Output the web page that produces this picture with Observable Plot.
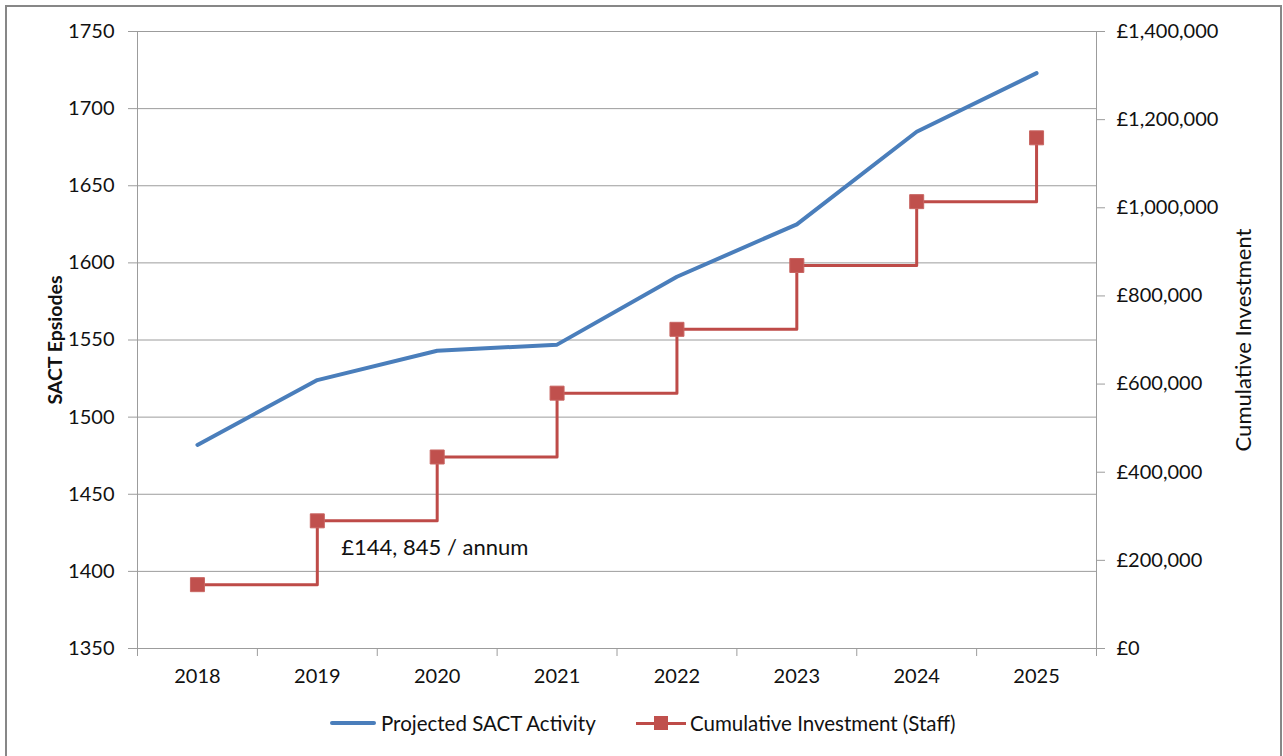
<!DOCTYPE html>
<html>
<head>
<meta charset="utf-8">
<script src="https://cdn.jsdelivr.net/npm/d3@7"></script>
<script src="https://cdn.jsdelivr.net/npm/@observablehq/plot@0.6"></script>
<style>
  body { margin: 0; background: #fff; font-family: Lato, "Open Sans", sans-serif; }
  #chart { position: relative; width: 1283px; height: 756px; overflow: hidden; }
  #frame { position: absolute; left: 5px; top: 5px; width: 1277px; height: 800px;
           border: 2px solid #878787; box-sizing: border-box; }
  #plot { position: absolute; left: 0; top: 0; }
  #legend { position: absolute; left: 0; top: 0; width: 100%; height: 100%; pointer-events: none; }
  .lg-text { position: absolute; top: 710px; font-size: 20.5px; line-height: 26px; color: #111; white-space: nowrap; }
</style>
</head>
<body>
<div id="chart">
  <div id="frame"></div>
  <div id="plot"></div>
  <div id="legend"></div>
</div>
<script>
// Projection years (categories on the x axis)
const years = [2018, 2019, 2020, 2021, 2022, 2023, 2024, 2025];
// Projected SACT episodes per year (left axis)
const activity = [1482, 1524, 1543, 1547, 1591, 1625, 1685, 1723];
// Cumulative staff investment in £ (right axis)
const investment = [144845, 289690, 434535, 579380, 724225, 869070, 1013915, 1158760];
// Axis ticks
const activityTicks = [1350, 1400, 1450, 1500, 1550, 1600, 1650, 1700, 1750];
const investmentTicks = [0, 200000, 400000, 600000, 800000, 1000000, 1200000, 1400000];
// Text
const seriesNames = ["Projected SACT Activity", "Cumulative Investment (Staff)"];
const axisTitles = ["SACT Epsiodes", "Cumulative Investment"];
const annualRate = investment[0];

const blue = "#4a7ebb";
const red = "#be4b48";
const grid = "#9c9c9c";

// The £ axis shares the frame with the episodes axis: map £ onto episode units
const yMin = activityTicks[0], yMax = activityTicks[activityTicks.length - 1];
const invMax = investmentTicks[investmentTicks.length - 1];
const toLeft = v => yMin + (v / invMax) * (yMax - yMin);
const fromLeft = y => Math.round(((y - yMin) / (yMax - yMin)) * invMax);
const pound = d3.format(",");

const rows = years.map((year, i) => ({
  year,
  activity: activity[i],
  invest: toLeft(investment[i])
}));
// category boundaries, where the x tick marks sit
const bounds = d3.range(years.length + 1).map(i => years[0] - 0.5 + i);

const note = [{year: years[1], y: toLeft(investment[1]), rate: annualRate}];

const chart = Plot.plot({
  width: 1283,
  height: 700,
  marginLeft: 137,
  marginRight: 187,
  marginTop: 31,
  marginBottom: 52,
  style: {fontFamily: "Lato, 'Open Sans', sans-serif", fontSize: "20px", color: "#111", background: "transparent", overflow: "visible"},
  x: {type: "linear", domain: [bounds[0], bounds[bounds.length - 1]]},
  y: {domain: [yMin, yMax]},
  marks: [
    Plot.gridY(activityTicks, {stroke: grid, strokeOpacity: 1}),
    Plot.ruleX([bounds[0], bounds[bounds.length - 1]], {stroke: grid}),
    Plot.axisY(activityTicks, {anchor: "left", tickSize: 9, tickPadding: 14, stroke: grid, label: null, tickFormat: d => String(d)}),
    Plot.axisY(investmentTicks.map(toLeft), {anchor: "right", tickSize: 8, tickPadding: 12, stroke: grid, label: null,
      tickFormat: d => "£" + pound(fromLeft(d))}),
    Plot.axisX(bounds, {anchor: "bottom", tickSize: 8, stroke: grid, label: null, tickFormat: () => ""}),
    Plot.axisX(years, {anchor: "bottom", tickSize: 0, tickPadding: 20, label: null, tickFormat: d => String(d)}),
    Plot.line(rows, {x: "year", y: "activity", stroke: blue, strokeWidth: 4, strokeLinejoin: "round"}),
    Plot.line(rows, {x: "year", y: "invest", stroke: red, strokeWidth: 3, curve: "step-after"}),
    Plot.dot(rows, {x: "year", y: "invest", symbol: "square", r: 7.9, fill: "#c0504d", stroke: "#c86562", strokeWidth: 1}),
    Plot.text(note, {x: "year", y: "y", dx: 24, dy: 27, textAnchor: "start", fontSize: 22,
      text: d => "£" + pound(d.rate).replace(",", ", ") + " / annum"}),
    Plot.text([axisTitles[0]], {frameAnchor: "left", textAnchor: "middle", text: d => d, rotate: -90, dx: -82, fontWeight: "bold", fontSize: 19.5}),
    Plot.text([axisTitles[1]], {frameAnchor: "right", textAnchor: "middle", text: d => d, rotate: -90, dx: 147, fontSize: 22})
  ]
});
document.getElementById("plot").appendChild(chart);

// Legend below the plot
const legend = d3.select("#legend");
legend.append("div").style("position", "absolute").style("left", "330px").style("top", "721px")
  .style("width", "46px").style("height", "4px").style("background", blue).style("border-radius", "2px");
legend.append("div").attr("class", "lg-text").style("left", "381px").text(seriesNames[0]);
legend.append("div").style("position", "absolute").style("left", "636px").style("top", "722px")
  .style("width", "50px").style("height", "3px").style("background", red);
legend.append("div").style("position", "absolute").style("left", "654px").style("top", "716px")
  .style("width", "14px").style("height", "14px").style("background", "#c0504d");
legend.append("div").attr("class", "lg-text").style("left", "690px").text(seriesNames[1]);
</script>
</body>
</html>
